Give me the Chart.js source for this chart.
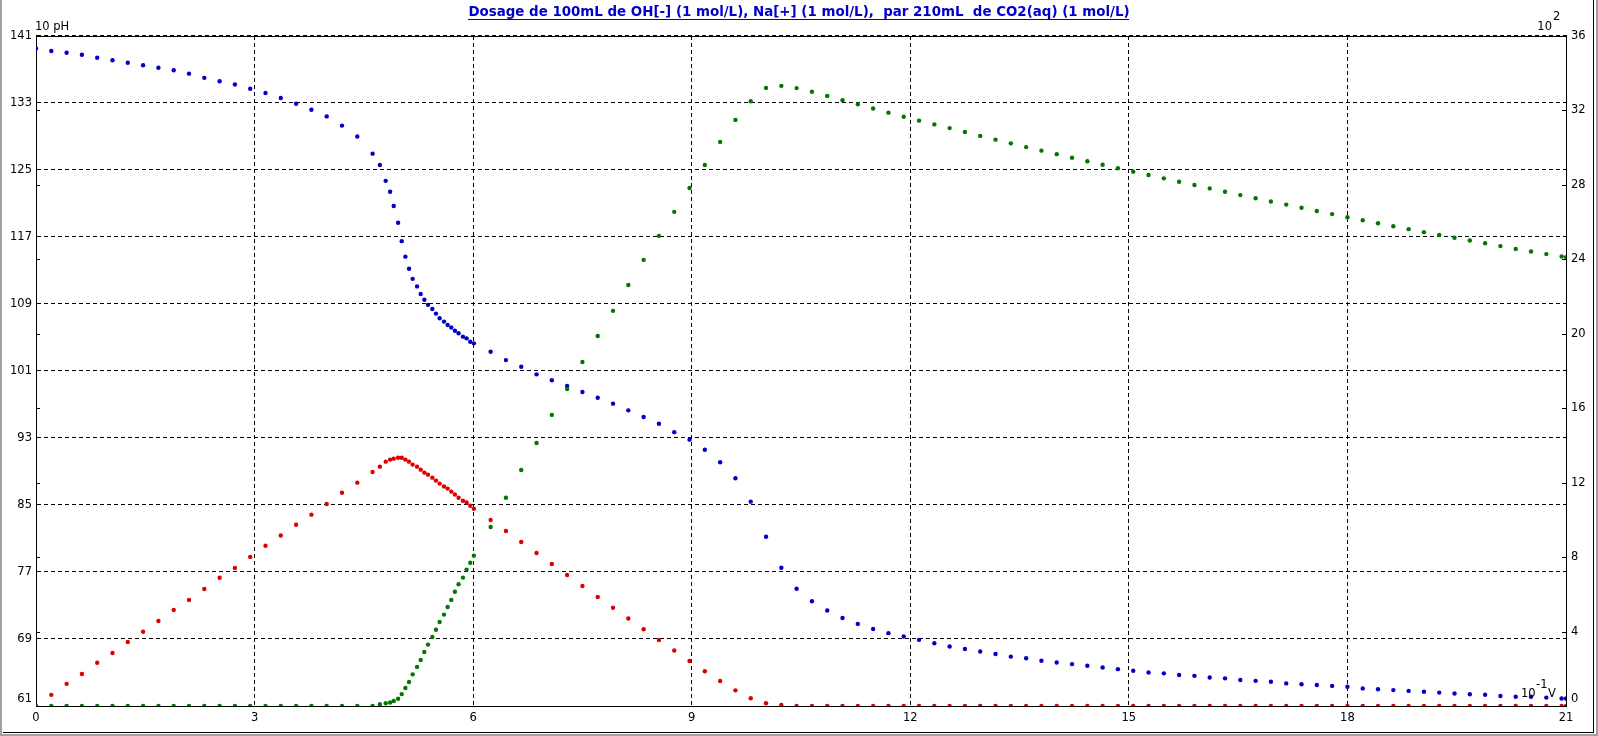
<!DOCTYPE html>
<html>
<head>
<meta charset="utf-8">
<script src="https://cdn.jsdelivr.net/npm/chart.js@4.4.1/dist/chart.umd.min.js"></script>
<style>
  html, body { margin: 0; padding: 0; background: #fff; }
</style>
</head>
<body>
<canvas id="chart" width="1598" height="736"></canvas>
<script>
// volume added, in units of 10 mL (axis "10^-1 V")
const volumes = [0, 0.21, 0.42, 0.63, 0.84, 1.05, 1.26, 1.47, 1.68, 1.89, 2.10, 2.31, 2.52, 2.73, 2.94, 3.15, 3.36, 3.57, 3.78, 3.99, 4.20, 4.41, 4.62,
  4.72, 4.80, 4.86, 4.91, 4.97, 5.02, 5.07, 5.12, 5.17, 5.23, 5.28, 5.33, 5.38, 5.44, 5.49, 5.54, 5.60, 5.65, 5.70, 5.75, 5.80, 5.86, 5.91, 5.96, 6.01,
  6.24, 6.45, 6.66, 6.87, 7.08, 7.29, 7.50, 7.71, 7.92, 8.13, 8.34, 8.55, 8.76, 8.97, 9.18, 9.39, 9.60, 9.81, 10.02, 10.23,
  10.44, 10.65, 10.86, 11.07, 11.28, 11.49, 11.70, 11.91, 12.12, 12.33, 12.54, 12.75, 12.96, 13.17, 13.38, 13.59, 13.80, 14.01, 14.22, 14.43, 14.64, 14.85,
  15.06, 15.27, 15.48, 15.69, 15.90, 16.11, 16.32, 16.53, 16.74, 16.95, 17.16, 17.37, 17.58, 17.79, 18.00, 18.21, 18.42, 18.63, 18.84,
  19.05, 19.26, 19.47, 19.68, 19.89, 20.10, 20.31, 20.52, 20.73, 20.94, 21.00]

// 10 x pH (left axis)
const ph10 = [139.5, 139.2, 139.0, 138.75, 138.4, 138.1, 137.8, 137.5, 137.2, 136.9, 136.5, 136.0, 135.6, 135.2, 134.7, 134.2, 133.6, 132.9, 132.2, 131.4, 130.3, 129.0, 126.95,
  125.6, 123.7, 122.4, 120.7, 118.7, 116.5, 114.65, 113.2, 112.0, 111.1, 110.2, 109.5, 108.9, 108.4, 107.85, 107.3, 106.9, 106.5, 106.2, 105.8, 105.5, 105.1, 104.9, 104.5, 104.3,
  103.3, 102.3, 101.5, 100.6, 99.9, 99.2, 98.5, 97.8, 97.1, 96.3, 95.5, 94.7, 93.7, 92.8, 91.6, 90.1, 88.2, 85.4, 81.2, 77.5,
  75.0, 73.5, 72.4, 71.5, 70.8, 70.2, 69.7, 69.3, 68.9, 68.5, 68.1, 67.8, 67.5, 67.2, 66.9, 66.7, 66.4, 66.2, 66.0, 65.8, 65.6, 65.4,
  65.2, 65.0, 64.9, 64.7, 64.6, 64.4, 64.3, 64.1, 64.0, 63.9, 63.7, 63.6, 63.5, 63.4, 63.3, 63.1, 63.0, 62.9, 62.8,
  62.7, 62.6, 62.5, 62.4, 62.35, 62.2, 62.1, 62.1, 62.0, 61.9, 61.9]

// CO3[2-] (right axis)
const carbonate = [0, 0.60, 1.19, 1.72, 2.32, 2.85, 3.44, 3.99, 4.57, 5.16, 5.70, 6.29, 6.89, 7.42, 8.01, 8.61, 9.16, 9.74, 10.28, 10.85, 11.46, 12.00, 12.57,
  12.86, 13.13, 13.24, 13.29, 13.34, 13.34, 13.24, 13.13, 12.97, 12.86, 12.70, 12.54, 12.43, 12.27, 12.11, 11.95, 11.79, 11.68, 11.52, 11.36, 11.19, 11.03, 10.93, 10.76, 10.60,
  9.99, 9.40, 8.81, 8.22, 7.63, 7.04, 6.45, 5.86, 5.28, 4.70, 4.12, 3.55, 2.98, 2.42, 1.87, 1.34, 0.84, 0.42, 0.15, 0.05,
  0, 0, 0, 0, 0, 0, 0, 0, 0, 0, 0, 0, 0, 0, 0, 0, 0, 0, 0, 0, 0, 0,
  0, 0, 0, 0, 0, 0, 0, 0, 0, 0, 0, 0, 0, 0, 0, 0, 0, 0, 0,
  0, 0, 0, 0, 0, 0, 0, 0, 0, 0, 0]

// HCO3[-] (right axis)
const bicarbonate = [0, 0, 0, 0, 0, 0, 0, 0, 0, 0, 0, 0, 0, 0, 0, 0, 0, 0, 0, 0, 0, 0, 0,
  0.10, 0.15, 0.19, 0.27, 0.39, 0.64, 0.97, 1.29, 1.70, 2.10, 2.47, 2.90, 3.30, 3.71, 4.10, 4.51, 4.91, 5.32, 5.70, 6.14, 6.54, 6.90, 7.33, 7.70, 8.08,
  9.62, 11.19, 12.68, 14.13, 15.64, 17.03, 18.48, 19.88, 21.23, 22.62, 23.97, 25.26, 26.55, 27.83, 29.07, 30.31, 31.49, 32.49, 33.21, 33.32,
  33.20, 33.00, 32.78, 32.55, 32.33, 32.10, 31.88, 31.66, 31.45, 31.25, 31.05, 30.84, 30.63, 30.43, 30.23, 30.03, 29.84, 29.65, 29.46, 29.27, 29.08, 28.89,
  28.71, 28.53, 28.35, 28.17, 27.99, 27.81, 27.63, 27.45, 27.28, 27.11, 26.94, 26.77, 26.60, 26.43, 26.26, 26.10, 25.94, 25.78, 25.62,
  25.46, 25.31, 25.16, 25.01, 24.86, 24.71, 24.56, 24.42, 24.28, 24.15, 24.12]

const xTicks = [0, 3, 6, 9, 12, 15, 18, 21]
const phTicks = [61, 69, 77, 85, 93, 101, 109, 117, 125, 133, 141]
const rightTicks = [0, 4, 8, 12, 16, 20, 24, 28, 32, 36]
const title = "Dosage de 100mL de OH[-] (1 mol/L), Na[+] (1 mol/L),  par 210mL  de CO2(aq) (1 mol/L)"

const tickFont = {family: "DejaVu Sans", size: 11.5}
const titleFont = {family: "DejaVu Sans", size: 13.4, weight: "bold"}
const blue = "#0000c8"

function points(ys){
    return volumes.map((v, i) => ({x: v, y: ys[i]}))
}

// frame, unit labels, small marks and title underline
const decor = {
    id: "decor",
    beforeDatasetsDraw(chart){
        let ctx = chart.ctx
        let a = chart.chartArea
        ctx.save()
        ctx.strokeStyle = "#000"
        ctx.lineWidth = 1
        ctx.strokeRect(a.left + 0.5, a.top + 0.5, a.right - a.left, a.bottom - a.top)
        ctx.beginPath()
        for (let t of rightTicks){
            let y = Math.round(chart.scales.y2.getPixelForValue(t)) + 0.5
            ctx.moveTo(a.left, y); ctx.lineTo(a.left + 4, y)
            ctx.moveTo(a.right - 4, y); ctx.lineTo(a.right, y)
        }
        ctx.stroke()
        ctx.restore()
    },
    afterDraw(chart){
        let ctx = chart.ctx
        let a = chart.chartArea
        ctx.save()
        // underline of the title
        ctx.font = "bold 13.4px 'DejaVu Sans'"
        let w = ctx.measureText(title).width
        let cx = chart.width / 2
        ctx.fillStyle = blue
        ctx.fillRect(Math.round(cx - w / 2), 19, Math.round(w), 1)

        ctx.fillStyle = "#000"
        ctx.font = "11.5px 'DejaVu Sans'"
        ctx.textBaseline = "alphabetic"
        ctx.textAlign = "left"
        ctx.fillText("10 pH", a.left - 1, 30)
        ctx.textAlign = "right"
        ctx.fillText("10", 1552, 30)
        ctx.textAlign = "left"
        ctx.fillText("2", 1553, 20)
        ctx.fillText("10", 1521, 697)
        ctx.fillText("-1", 1536, 688)
        ctx.fillText("V", 1548, 697)

        // window frame
        ctx.fillStyle = "#a0a0a0"
        ctx.fillRect(0, 0, 2, 736)
        ctx.fillRect(1596, 0, 2, 736)
        ctx.fillRect(0, 734, 1598, 2)
        ctx.fillStyle = "#000"
        ctx.fillRect(1593, 0, 1, 733)
        ctx.fillRect(3, 732, 1591, 1)
        ctx.restore()
    }
}

new Chart(document.getElementById("chart"), {
    type: "scatter",
    data: {
        datasets: [
            {label: "10 pH", data: points(ph10), yAxisID: "y", backgroundColor: blue, order: 3},
            {label: "CO3[2-]", data: points(carbonate), yAxisID: "y2", backgroundColor: "#dc0000", order: 2},
            {label: "HCO3[-]", data: points(bicarbonate), yAxisID: "y2", backgroundColor: "#007800", order: 1}
        ]
    },
    options: {
        responsive: false,
        animation: false,
        layout: {padding: 0},
        elements: {point: {radius: 2.2, hoverRadius: 2.2, borderWidth: 0}},
        plugins: {
            legend: {display: false},
            tooltip: {enabled: false},
            title: {
                display: true,
                text: title,
                color: blue,
                font: titleFont,
                padding: {top: 4, bottom: 15.9}
            }
        },
        scales: {
            x: {
                type: "linear",
                position: "bottom",
                min: 0,
                max: 21,
                afterBuildTicks: s => { s.ticks = xTicks.map(v => ({value: v})) },
                afterFit: s => { s.height = 30 },
                ticks: {color: "#000", font: tickFont, padding: 5, maxRotation: 0, autoSkip: false},
                grid: {color: "#000", drawTicks: false},
                border: {color: "#000", dash: [4, 3]}
            },
            y: {
                position: "left",
                min: 61,
                max: 141,
                afterBuildTicks: s => { s.ticks = phTicks.map(v => ({value: v})) },
                afterFit: s => { s.width = 36 },
                ticks: {color: "#000", font: tickFont, padding: 4, autoSkip: false,
                    callback: v => v === 61 ? ["61", ""] : String(v)},
                grid: {color: "#000", drawTicks: false},
                border: {color: "#000", dash: [4, 3]}
            },
            y2: {
                position: "right",
                min: 0,
                max: 36,
                afterBuildTicks: s => { s.ticks = rightTicks.map(v => ({value: v})) },
                afterFit: s => { s.width = 32 },
                ticks: {color: "#000", font: tickFont, padding: 5, autoSkip: false,
                    callback: v => v === 0 ? ["0", ""] : String(v)},
                grid: {drawOnChartArea: false, drawTicks: false},
                border: {color: "#000"}
            }
        }
    },
    plugins: [decor]
})
</script>
</body>
</html>
